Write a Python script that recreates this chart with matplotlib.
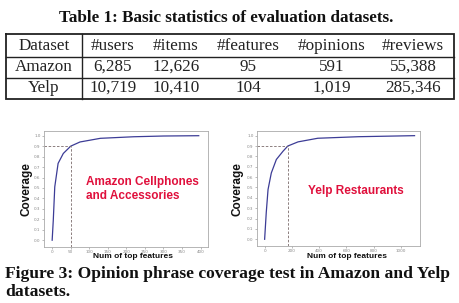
import matplotlib
matplotlib.use("Agg")
import matplotlib.pyplot as plt
import numpy as np

# ---- data ----
table_title = "Table 1: Basic statistics of evaluation datasets."
columns = ["Dataset", "#users", "#items", "#features", "#opinions", "#reviews"]
row_amazon = ["Amazon", "6,285", "12,626", "95", "591", "55,388"]
row_yelp = ["Yelp", "10,719", "10,410", "104", "1,019", "285,346"]

amazon_x = [0, 3, 7, 16, 30, 50, 75, 130, 220, 300, 395]
amazon_y = [0.0, 0.19, 0.51, 0.735, 0.83, 0.9, 0.94, 0.975, 0.99, 0.997, 1.0]
amazon_xticks = [0, 50, 100, 150, 200, 250, 300, 350, 400]
amazon_cut = (50, 0.9)

yelp_x = [0, 12, 25, 49, 86, 135, 170, 245, 390, 690, 1100]
yelp_y = [0.0, 0.26, 0.48, 0.64, 0.77, 0.85, 0.9, 0.94, 0.975, 0.99, 1.0]
yelp_xticks = [0, 200, 400, 600, 800, 1000]
yelp_cut = (170, 0.9)

yticks = [0.0, 0.1, 0.2, 0.3, 0.4, 0.5, 0.6, 0.7, 0.8, 0.9, 1.0]
caption1 = "Figure 3: Opinion phrase coverage test in Amazon and Yelp"
caption2 = "datasets."

W, H = 460, 303
fig = plt.figure(figsize=(W / 100, H / 100), dpi=100)
fig.patch.set_facecolor("white")

base = fig.add_axes([0, 0, 1, 1])
base.set_xlim(0, W)
base.set_ylim(H, 0)
base.axis("off")
base.set_zorder(10)

serif = "Liberation Serif"
sans = "Liberation Sans"

# table title
base.text(226, 18, table_title, ha="center", va="center", fontsize=12.3,
          fontweight="bold", family=serif, color="#111111")

# table lines
L, R, T, B = 6, 454, 34, 99
base.plot([L, R, R, L, L], [T, T, B, B, T], color="#222222", lw=1.3,
          solid_joinstyle="miter")
for yy in (57, 78):
    base.plot([L, R], [yy, yy], color="#222222", lw=1.0)
base.plot([82, 82], [T, B], color="#222222", lw=1.0)

col_x = [44, 113, 176, 248, 332, 413]
row_y = [46, 67, 88]
for r, row in enumerate([columns, row_amazon, row_yelp]):
    for c, val in enumerate(row):
        base.text(col_x[c], row_y[r], val, ha="center", va="center",
                  fontsize=12.3, family=serif, color="#222222")


def make_chart(rect, xs, ys, xticks, cut, xlim):
    ax = fig.add_axes(rect)
    ax.plot(xs, ys, color="#3c3c96", lw=0.9)
    ax.plot([xlim[0], cut[0]], [cut[1], cut[1]], ls=(0, (3, 2)), color="#7a6a6a", lw=0.6)
    ax.plot([cut[0], cut[0]], [-0.065, cut[1]], ls=(0, (3, 2)), color="#7a6a6a", lw=0.6)
    ax.set_xlim(*xlim)
    ax.set_ylim(-0.065, 1.045)
    ax.set_xticks(xticks)
    ax.set_yticks(yticks)
    ax.set_xticklabels([str(t) for t in xticks])
    ax.set_yticklabels(["%.1f" % t for t in yticks])
    ax.tick_params(labelsize=3, length=1.5, width=0.4, colors="#888888", pad=1)
    for s in ax.spines.values():
        s.set_color("#aaaaaa")
        s.set_linewidth(0.6)
    ax.set_facecolor("white")
    return ax


ax1 = make_chart([44 / W, 1 - 247 / H, 164 / W, 116 / H], amazon_x, amazon_y,
                 amazon_xticks, amazon_cut, (-22, 420))
ax2 = make_chart([257 / W, 1 - 246 / H, 163 / W, 115 / H], yelp_x, yelp_y,
                 yelp_xticks, yelp_cut, (-56, 1140))

red = "#e0103c"
base.text(86, 182, "Amazon Cellphones", ha="left", va="center", fontsize=8.5,
          fontweight="bold", family=sans, color=red)
base.text(86, 196, "and Accessories", ha="left", va="center", fontsize=8.5,
          fontweight="bold", family=sans, color=red)
base.text(308, 191, "Yelp Restaurants", ha="left", va="center", fontsize=8.5,
          fontweight="bold", family=sans, color=red)

for x in (27, 238):
    base.text(x, 189, "Coverage", ha="center", va="center", rotation=90,
              fontsize=8.5, fontweight="bold", family=sans, color="#111111")
for x in (133, 347):
    base.text(x, 257, "Num of top features", ha="center", va="center",
              fontsize=6, fontweight="bold", family=sans, color="#111111")

base.text(5, 278, caption1, ha="left", va="baseline", fontsize=12.6,
          fontweight="bold", family=serif, color="#111111")
base.text(5, 296, caption2, ha="left", va="baseline", fontsize=12.6,
          fontweight="bold", family=serif, color="#111111")

fig.savefig("out.png", dpi=100)
